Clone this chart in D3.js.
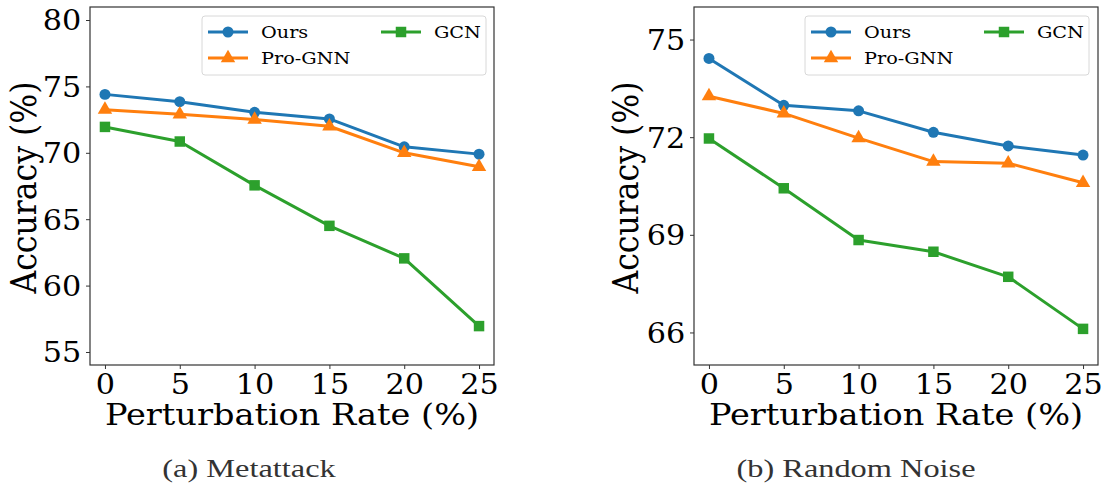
<!DOCTYPE html>
<html>
<head>
<meta charset="utf-8">
<script src="https://cdn.jsdelivr.net/npm/d3@7"></script>
<style>
  body { margin: 0; background: #fff; }
  svg { display: block; }
  .tick text { font-family: "DejaVu Serif", serif; }
</style>
</head>
<body>
<svg id="chart" width="1104" height="484"></svg>
<script>
// perturbation rates (%)
const rates = [0, 5, 10, 15, 20, 25];

// (a) Metattack
const metaOurs = [74.4, 73.85, 73.05, 72.55, 70.45, 69.9];
const metaProGNN = [73.25, 72.9, 72.5, 72.0, 70.0, 68.95];
const metaGCN = [71.95, 70.85, 67.55, 64.5, 62.05, 56.95];
const metaTicks = [55, 60, 65, 70, 75, 80];

// (b) Random Noise
const noiseOurs = [74.42, 72.98, 72.81, 72.15, 71.73, 71.45];
const noiseProGNN = [73.26, 72.73, 71.97, 71.25, 71.2, 70.6];
const noiseGCN = [71.96, 70.43, 68.84, 68.48, 67.71, 66.11];
const noiseTicks = [66, 69, 72, 75];

const seriesNames = ["Ours", "Pro-GNN", "GCN"];
const colors = ["#1f77b4", "#ff7f0e", "#2ca02c"];
const symbols = [d3.symbolCircle, d3.symbolTriangle, d3.symbolSquare];
const symSizes = [95, 90, 110];

// the source figure is a bit wider than tall, so text is stretched sideways
const SX = 1.1;

const svg = d3.select("#chart");

function drawPanel(opt) {
    const g = svg.append("g");
    const x = d3.scaleLinear().domain([-1, 26]).range([opt.left, opt.right]);
    const y = d3.scaleLinear().domain(opt.ydomain).range([opt.bottom, opt.top]);

    const series = opt.values.map((vals, i) => ({
        name: seriesNames[i],
        color: colors[i],
        symbol: symbols[i],
        size: symSizes[i],
        points: rates.map((r, j) => ({ rate: r, acc: vals[j] }))
    }));

    const line = d3.line().x(d => x(d.rate)).y(d => y(d.acc));

    // lines and markers
    series.forEach(s => {
        g.append("path")
            .datum(s.points)
            .attr("fill", "none")
            .attr("stroke", s.color)
            .attr("stroke-width", 3)
            .attr("stroke-linejoin", "round")
            .attr("d", line);
        g.selectAll(null)
            .data(s.points)
            .join("path")
            .attr("transform", d => `translate(${x(d.rate)},${y(d.acc)})`)
            .attr("d", d3.symbol().type(s.symbol).size(s.size))
            .attr("fill", s.color);
    });

    // axes
    const xAxis = g.append("g")
        .attr("transform", `translate(0,${opt.bottom})`)
        .call(d3.axisBottom(x).tickValues(rates).tickSize(4).tickPadding(5));
    const yAxis = g.append("g")
        .attr("transform", `translate(${opt.left},0)`)
        .call(d3.axisLeft(y).tickValues(opt.yticks).tickSize(4).tickPadding(4));
    [xAxis, yAxis].forEach(a => {
        a.select(".domain").remove();
        a.selectAll(".tick line").attr("stroke", "#333").attr("stroke-width", 1);
        a.selectAll(".tick text")
            .attr("font-size", 27.5).attr("fill", "#000")
            .attr("transform", `scale(${SX},1)`);
    });
    xAxis.selectAll(".tick text").attr("dy", "0.71em");
    yAxis.selectAll(".tick text").attr("dy", "0.36em");

    g.append("rect")
        .attr("x", opt.left).attr("y", opt.top)
        .attr("width", opt.right - opt.left).attr("height", opt.bottom - opt.top)
        .attr("fill", "none").attr("stroke", "#333").attr("stroke-width", 1.2);

    // axis titles
    g.append("text")
        .attr("transform", `translate(${(opt.left + opt.right) / 2},425) scale(${SX},1)`)
        .attr("text-anchor", "middle")
        .attr("font-family", "DejaVu Serif").attr("font-size", 30.5)
        .text("Perturbation Rate (%)");
    g.append("text")
        .attr("transform", `translate(${opt.ylabelX},${(opt.top + opt.bottom) / 2 + 1.5}) scale(${SX},1) rotate(-90)`)
        .attr("text-anchor", "middle")
        .attr("font-family", "DejaVu Serif").attr("font-size", 31.5)
        .text("Accuracy (%)");

    // caption
    g.append("text")
        .attr("transform", `translate(${opt.captionX},477) scale(1.27,1)`)
        .attr("text-anchor", "middle")
        .attr("font-family", "Liberation Serif").attr("font-size", 25.5)
        .attr("fill", "#333")
        .text(opt.caption);

    // legend
    const lg = g.append("g").attr("transform", `translate(${opt.legendX},16)`);
    lg.append("rect")
        .attr("width", 284).attr("height", 59).attr("rx", 3)
        .attr("fill", "#fff").attr("fill-opacity", 0.8)
        .attr("stroke", "#d8d8d8").attr("stroke-width", 1);
    const slots = [[6, 16], [6, 42], [179, 16]];
    series.forEach((s, i) => {
        const [lx, ly] = slots[i];
        const item = lg.append("g").attr("transform", `translate(${lx},${ly})`);
        item.append("line")
            .attr("x1", 0).attr("x2", 40)
            .attr("stroke", s.color).attr("stroke-width", 3);
        item.append("path")
            .attr("transform", "translate(20,0)")
            .attr("d", d3.symbol().type(s.symbol).size(s.size))
            .attr("fill", s.color);
        item.append("text")
            .attr("transform", `translate(53,0) scale(${SX},1)`)
            .attr("dy", "0.35em")
            .attr("font-family", "DejaVu Serif").attr("font-size", 17.5)
            .text(s.name);
    });
}

drawPanel({
    left: 90, right: 494, top: 7, bottom: 365,
    ydomain: [54.02, 80.98], yticks: metaTicks,
    values: [metaOurs, metaProGNN, metaGCN],
    ylabelX: 36, captionX: 249, caption: "(a) Metattack",
    legendX: 202
});

drawPanel({
    left: 694, right: 1098, top: 7, bottom: 365,
    ydomain: [65.0, 76.0], yticks: noiseTicks,
    values: [noiseOurs, noiseProGNN, noiseGCN],
    ylabelX: 638, captionX: 856, caption: "(b) Random Noise",
    legendX: 805
});
</script>
</body>
</html>
